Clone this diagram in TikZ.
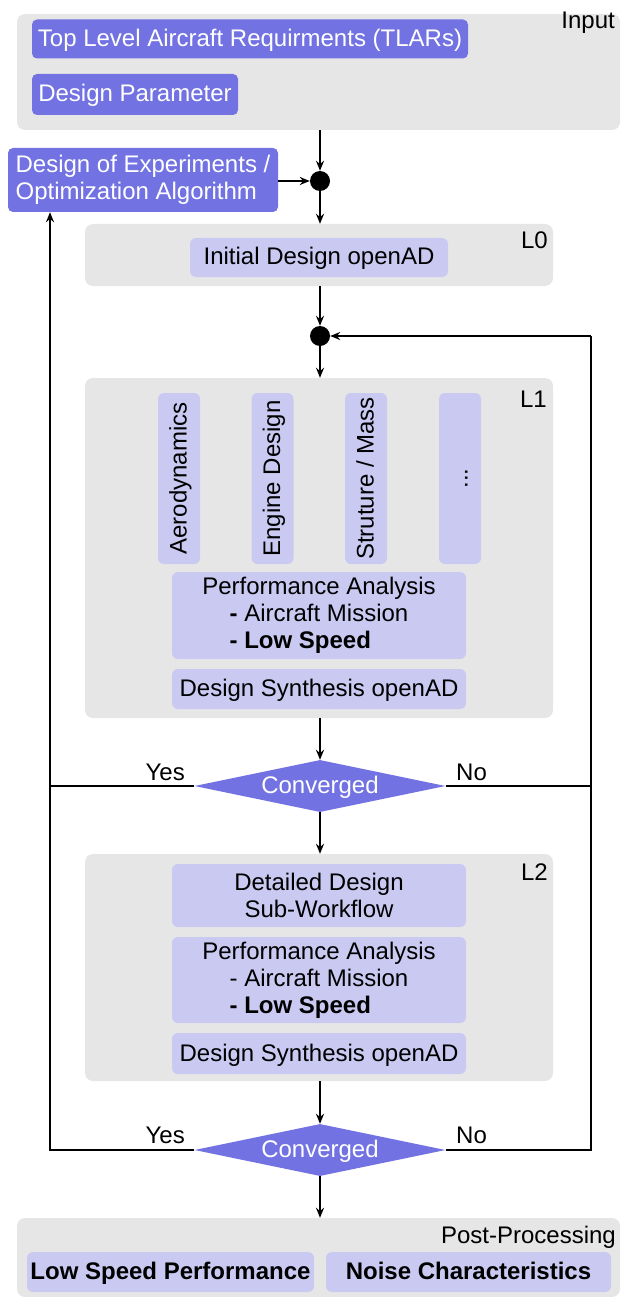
\documentclass[tikz,border=0pt]{standalone}
\usepackage{fontspec}
\setmainfont{Liberation Sans}
\usetikzlibrary{arrows.meta,shapes.geometric}
\definecolor{dk}{RGB}{114,114,226}
\definecolor{lt}{RGB}{201,201,242}
\definecolor{pg}{RGB}{230,230,230}
\tikzset{
  base/.style={inner sep=0pt, font=\fontsize{24}{27}\selectfont},
  sl/.style={text height=18pt, text depth=3pt},
  panel/.style={base, fill=pg, rounded corners=8pt},
  dbox/.style={base, fill=dk, text=white, rounded corners=5pt},
  lbox/.style={base, fill=lt, text=black, rounded corners=6pt, align=center},
  dot/.style={circle, fill=black, minimum size=20pt, inner sep=0pt},
  dia/.style={base, sl, diamond, fill=dk, text=white, shape aspect=4.8, minimum width=251pt, minimum height=52pt},
  lab/.style={base},
  arr/.style={line width=1.6pt, -{Stealth[length=10pt,width=8pt]}},
  ln/.style={line width=1.6pt}
}
\begin{document}
\begin{tikzpicture}[x=1pt,y=-1pt]
\useasboundingbox (0,0) rectangle (624,1297);
% Input
\node[panel, minimum width=603pt, minimum height=116pt] (inp) at (318.5,72) {};
\node[lab, anchor=base east] (inlab) at (615,29) {Input};
\node[dbox, sl, minimum width=436pt, minimum height=39pt] (tlar) at (250,39) {Top Level Aircraft Requirments (TLARs)};
\node[dbox, sl, minimum width=206pt, minimum height=41pt] (dp) at (135,94.5) {Design Parameter};
\node[dot] (d1) at (320,181) {};
\node[dbox, minimum width=270pt, minimum height=64pt, align=left] (doe) at (143,180) {Design of Experiments /\\Optimization Algorithm};
% L0
\node[panel, minimum width=468pt, minimum height=62pt] (l0) at (319,255) {};
\node[lab, anchor=base east] (l0lab) at (548,248) {L0};
\node[lbox, sl, minimum width=258pt, minimum height=39pt] (init) at (319,257.5) {Initial Design openAD};
\node[dot] (d2) at (320,336) {};
% L1
\node[panel, minimum width=468pt, minimum height=340pt] (l1) at (319,548) {};
\node[lab, anchor=base east] (l1lab) at (547,407) {L1};
\node[lbox, sl, rotate=90, minimum width=171pt, minimum height=42pt] (aero) at (179,478.5) {Aerodynamics};
\node[lbox, sl, rotate=90, minimum width=171pt, minimum height=42pt] (eng) at (272.5,478.5) {Engine Design};
\node[lbox, sl, rotate=90, minimum width=171pt, minimum height=42pt] (str) at (366,478.5) {Struture / Mass};
\node[lbox, sl, rotate=90, minimum width=171pt, minimum height=42pt] (etc) at (460,478.5) {...};
\node[lbox, minimum width=294pt, minimum height=87pt] (perf1) at (319,615.5) {Performance Analysis\\\textbf{-} Aircraft Mission\\\rlap{\textbf{- Low Speed}}\phantom{\textbf{-} Aircraft Mission}};
\node[lbox, sl, minimum width=294pt, minimum height=40pt] (ds1) at (319,689) {Design Synthesis openAD};
\node[dia] (c1) at (320,786) {Converged};
\node[lab, anchor=base east] (y1) at (185,780) {Yes};
\node[lab, anchor=base west] (n1) at (456,780) {No};
% L2
\node[panel, minimum width=468pt, minimum height=227pt] (l2) at (319,967.5) {};
\node[lab, anchor=base east] (l2lab) at (548,880) {L2};
\node[lbox, minimum width=294pt, minimum height=63pt] (dd) at (319,895.5) {Detailed Design\\Sub-Workflow};
\node[lbox, minimum width=294pt, minimum height=86pt] (perf2) at (319,980) {Performance Analysis\\- Aircraft Mission\\\rlap{\textbf{- Low Speed}}\phantom{- Aircraft Mission}};
\node[lbox, sl, minimum width=294pt, minimum height=41pt] (ds2) at (319,1053.5) {Design Synthesis openAD};
\node[dia] (c2) at (320,1150) {Converged};
\node[lab, anchor=base east] (y2) at (185,1143) {Yes};
\node[lab, anchor=base west] (n2) at (456,1143) {No};
% Post
\node[panel, minimum width=603pt, minimum height=79pt] (post) at (318.5,1257.5) {};
\node[lab, anchor=base east] (postlab) at (616,1243) {Post-Processing};
\node[lbox, sl, minimum width=287pt, minimum height=40pt, font=\fontsize{24}{27}\selectfont\bfseries] (lsp) at (170.5,1272) {Low Speed Performance};
\node[lbox, sl, minimum width=285pt, minimum height=40pt, font=\fontsize{24}{27}\selectfont\bfseries] (nc) at (468.5,1272) {Noise Characteristics};
% coordinates
\coordinate (la) at (50,786);
\coordinate (lb) at (50,1150);
\coordinate (ra) at (591,786);
\coordinate (rb) at (591,1150);
\coordinate (rt) at (591,336);
% connectors
\draw[arr] (inp.south -| d1) -- (d1);
\draw[arr] (doe.east |- d1) -- (d1);
\draw[arr] (d1) -- (l0.north -| d1);
\draw[arr] (l0.south -| d2) -- (d2);
\draw[arr] (rt) -- (d2);
\draw[arr] (d2) -- (l1.north -| d2);
\draw[arr] (l1.south -| c1) -- (c1.north);
\draw[arr] (c1.south) -- (l2.north -| c1);
\draw[arr] (l2.south -| c2) -- (c2.north);
\draw[arr] (c2.south) -- (post.north -| c2);
\draw[ln] (c1.west) -- (la);
\draw[ln] (c1.east) -- (ra);
\draw[arr] (c2.west) -- (lb) -- (doe.south -| lb);
\draw[ln] (c2.east) -- (rb) -- (rt);
\end{tikzpicture}
\end{document}
